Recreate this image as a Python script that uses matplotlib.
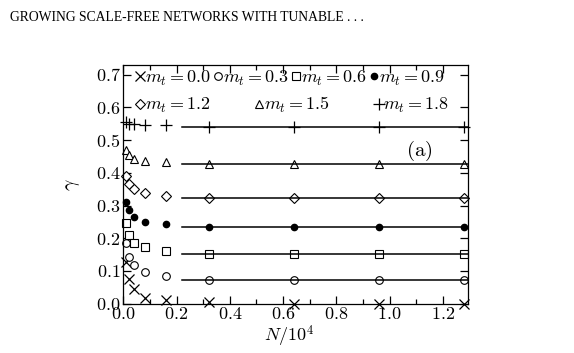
import matplotlib
matplotlib.use("Agg")
import matplotlib.pyplot as plt
from matplotlib.ticker import FuncFormatter, MultipleLocator

plt.rcParams['mathtext.fontset'] = 'cm'
plt.rcParams['font.family'] = 'serif'
plt.rcParams['font.serif'] = ['Liberation Serif', 'DejaVu Serif']

# N / 10^4
n = [0.01, 0.02, 0.04, 0.08, 0.16, 0.32, 0.64, 0.96, 1.28]

# gamma for each m_t
g00 = [0.128, 0.074, 0.044, 0.018, 0.010, 0.004, 0.0, 0.0, 0.0]
g03 = [0.185, 0.141, 0.118, 0.095, 0.085, 0.073, 0.073, 0.073, 0.073]
g06 = [0.247, 0.210, 0.185, 0.172, 0.162, 0.151, 0.151, 0.151, 0.151]
g09 = [0.312, 0.285, 0.264, 0.249, 0.242, 0.233, 0.233, 0.233, 0.233]
g12 = [0.390, 0.365, 0.349, 0.339, 0.330, 0.324, 0.324, 0.324, 0.324]
g15 = [0.471, 0.454, 0.442, 0.435, 0.433, 0.427, 0.427, 0.427, 0.427]
g18 = [0.555, 0.551, 0.548, 0.546, 0.545, 0.540, 0.540, 0.540, 0.540]

# fitted asymptotes (drawn from N/10^4 = 0.22 on)
fit_start = 0.22
fits = [0.073, 0.151, 0.233, 0.324, 0.427, 0.540]

fig = plt.figure(figsize=(5.74, 3.53), dpi=100)
ax = fig.add_axes([0.2148, 0.1402, 0.601, 0.6756])

ms = dict(color='black', linestyle='none', clip_on=False)
h0, = ax.plot(n, g00, marker='x', markersize=7.5, markeredgewidth=0.9, label=r'$m_t=0.0$', **ms)
h3, = ax.plot(n, g03, marker='o', markersize=5.5, markerfacecolor='white', markeredgewidth=0.8, label=r'$m_t=0.3$', **ms)
h6, = ax.plot(n, g06, marker='s', markersize=5.5, markerfacecolor='white', markeredgewidth=0.8, label=r'$m_t=0.6$', **ms)
h9, = ax.plot(n, g09, marker='o', markersize=4.5, label=r'$m_t=0.9$', **ms)
h12, = ax.plot(n, g12, marker='D', markersize=5.5, markerfacecolor='white', markeredgewidth=0.8, label=r'$m_t=1.2$', **ms)
h15, = ax.plot(n, g15, marker='^', markersize=5.5, markerfacecolor='white', markeredgewidth=0.8, label=r'$m_t=1.5$', **ms)
h18, = ax.plot(n, g18, marker='+', markersize=9, markeredgewidth=0.9, label=r'$m_t=1.8$', **ms)

xmax = 1.295
for f in fits:
    ax.plot([fit_start, xmax], [f, f], color='black', linewidth=1.1)

ax.set_xlim(0, xmax)
ax.set_ylim(0, 0.73)
ax.xaxis.set_major_locator(MultipleLocator(0.2))
ax.xaxis.set_minor_locator(MultipleLocator(0.1))
ax.yaxis.set_major_locator(MultipleLocator(0.1))
fmt = FuncFormatter(lambda v, p: r'$%.1f$' % v)
ax.xaxis.set_major_formatter(fmt)
ax.yaxis.set_major_formatter(fmt)
ax.tick_params(which='both', direction='in', top=True, right=True, labelsize=13, width=0.9)
ax.tick_params(which='major', length=6, pad=2)
ax.tick_params(which='minor', length=3.5)
for s in ax.spines.values():
    s.set_linewidth(0.9)

ax.set_xlabel(r'$N/10^4$', fontsize=13, labelpad=0)
ax.xaxis.set_label_coords(0.48, -0.085)
ax.set_ylabel(r'$\gamma$', fontsize=14, labelpad=10)
ax.text(1.11, 0.468, r'$\mathrm{(a)}$', fontsize=15, ha='center', va='center')

leg_kw = dict(frameon=False, fontsize=13, handlelength=0.5, handletextpad=0.0,
              borderaxespad=0.1, borderpad=0.1, numpoints=1)
leg1 = ax.legend(handles=[h0, h3, h6, h9], ncol=4, loc='upper left',
                 bbox_to_anchor=(0.025, 1.0), columnspacing=0.15, **leg_kw)
ax.add_artist(leg1)
ax.legend(handles=[h12, h15, h18], ncol=3, loc='upper left',
          bbox_to_anchor=(0.025, 0.888), columnspacing=2.45, **leg_kw)

fig.text(10 / 574, 1 - 21 / 353, 'GROWING SCALE-FREE NETWORKS WITH TUNABLE . . .',
         fontsize=9.8, va='baseline', ha='left')

fig.savefig('out.png', dpi=100)
